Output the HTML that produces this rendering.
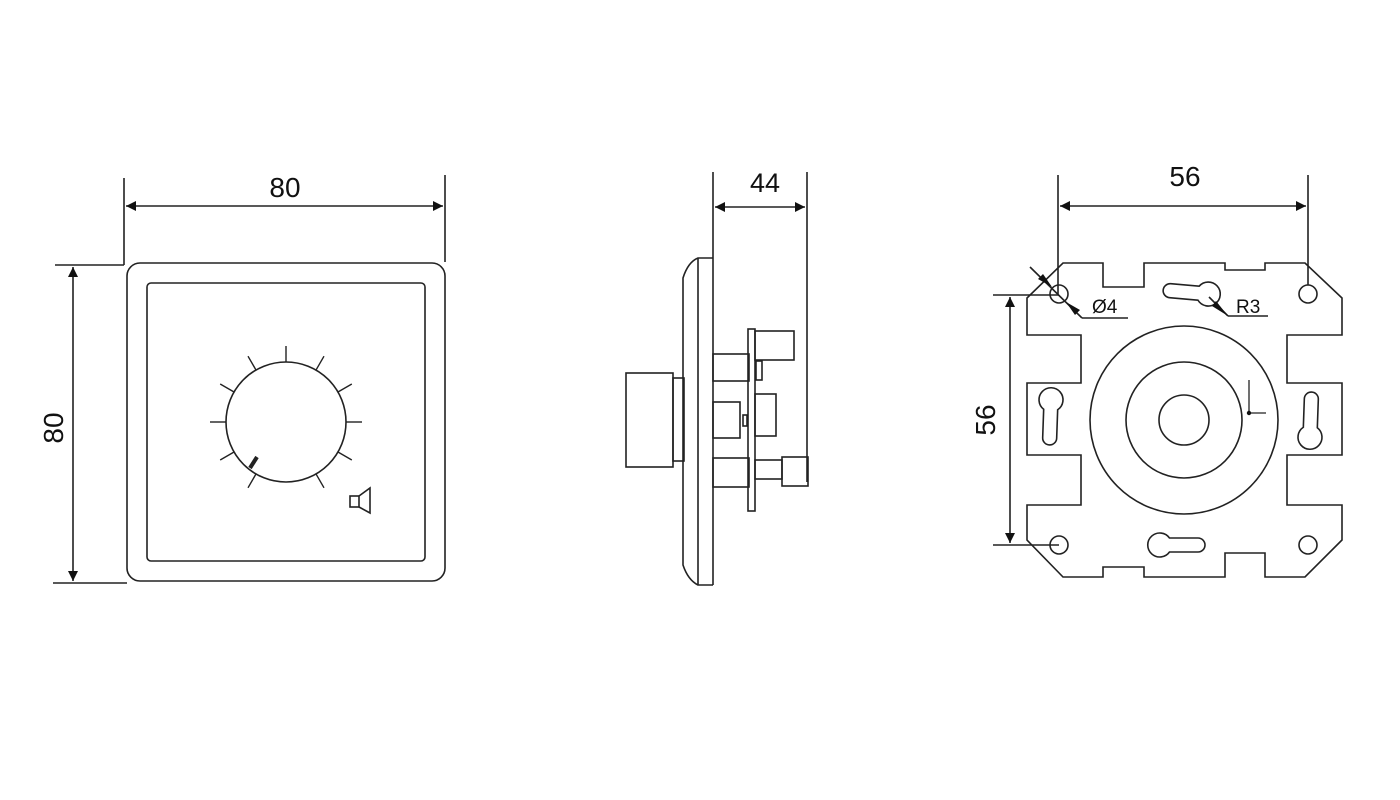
<!DOCTYPE html>
<html><head><meta charset="utf-8"><style>
html,body{margin:0;padding:0;background:#fff;}
svg{display:block;}
text{font-family:"Liberation Sans",Arial,sans-serif;fill:#111;}
</style></head><body>
<svg width="1400" height="800" viewBox="0 0 1400 800" xmlns="http://www.w3.org/2000/svg">
<defs>
<marker id="ar" viewBox="0 0 10 10" refX="10" refY="5" markerWidth="12" markerHeight="10" markerUnits="userSpaceOnUse" orient="auto-start-reverse">
<path d="M0,0 L10,5 L0,10 Z" fill="#111"/></marker>
<path id="kh" d="M9.5,-7 L38,-7 A7,7 0 0 1 38,7 L9.5,7 A12,12 0 1 1 9.5,-7 Z"/>
</defs>
<g fill="none" stroke="#222" stroke-width="1.6">
<!-- LEFT VIEW -->
<rect x="127" y="263" width="318" height="318" rx="13"/>
<rect x="147" y="283" width="278" height="278" rx="4"/>
<circle cx="286" cy="422" r="60"/>
<g stroke-width="1.4">
<line x1="286" y1="362" x2="286" y2="346" transform="rotate(0 286 422)"/>
<line x1="286" y1="362" x2="286" y2="346" transform="rotate(30 286 422)"/>
<line x1="286" y1="362" x2="286" y2="346" transform="rotate(60 286 422)"/>
<line x1="286" y1="362" x2="286" y2="346" transform="rotate(90 286 422)"/>
<line x1="286" y1="362" x2="286" y2="346" transform="rotate(120 286 422)"/>
<line x1="286" y1="362" x2="286" y2="346" transform="rotate(150 286 422)"/>
<line x1="286" y1="362" x2="286" y2="346" transform="rotate(-30 286 422)"/>
<line x1="286" y1="362" x2="286" y2="346" transform="rotate(-60 286 422)"/>
<line x1="286" y1="362" x2="286" y2="346" transform="rotate(-90 286 422)"/>
<line x1="286" y1="362" x2="286" y2="346" transform="rotate(-120 286 422)"/>
<line x1="286" y1="362" x2="286" y2="346" transform="rotate(-150 286 422)"/>
</g>
<line x1="250" y1="468" x2="257" y2="457" stroke-width="4"/>
<rect x="350" y="496" width="9" height="11"/>
<path d="M359,496 L370,488 L370,513 L359,507"/>
<!-- dims left -->
<line x1="124" y1="178" x2="124" y2="265"/>
<line x1="55" y1="265" x2="124" y2="265"/>
<line x1="445" y1="175" x2="445" y2="262"/>
<line x1="126" y1="206" x2="443" y2="206" marker-start="url(#ar)" marker-end="url(#ar)"/>
<line x1="53" y1="583" x2="127" y2="583"/>
<line x1="73" y1="267" x2="73" y2="581" marker-start="url(#ar)" marker-end="url(#ar)"/>
<!-- SIDE VIEW -->
<path d="M713,258 L698,258 Q688,262 683,278 L683,565 Q688,580 698,585 L713,585"/>
<line x1="698" y1="258" x2="698" y2="585"/>
<line x1="713" y1="172" x2="713" y2="585"/>
<line x1="807" y1="172" x2="807" y2="482"/>
<line x1="715" y1="207" x2="805" y2="207" marker-start="url(#ar)" marker-end="url(#ar)"/>
<rect x="626" y="373" width="47" height="94"/>
<rect x="673" y="378" width="11" height="83"/>
<rect x="748" y="329" width="7" height="182"/>
<rect x="713" y="354" width="36" height="27"/>
<rect x="713" y="402" width="27" height="36"/>
<rect x="743" y="415" width="4" height="11"/>
<rect x="755" y="331" width="39" height="29"/>
<rect x="756" y="361" width="6" height="19"/>
<rect x="755" y="394" width="21" height="42"/>
<rect x="713" y="458" width="36" height="29"/>
<rect x="755" y="460" width="27" height="19"/>
<rect x="782" y="457" width="26" height="29"/>
<!-- RIGHT VIEW -->
<path d="M1063,263 L1103,263 L1103,287 L1144,287 L1144,263 L1225,263 L1225,270 L1265,270 L1265,263 L1305,263 L1342,298 L1342,335 L1287,335 L1287,383 L1342,383 L1342,455 L1287,455 L1287,505 L1342,505 L1342,540 L1305,577 L1265,577 L1265,553 L1225,553 L1225,577 L1144,577 L1144,567 L1103,567 L1103,577 L1063,577 L1027,540 L1027,505 L1081,505 L1081,455 L1027,455 L1027,383 L1081,383 L1081,335 L1027,335 L1027,298 Z"/>
<circle cx="1059" cy="294" r="9"/>
<circle cx="1308" cy="294" r="9"/>
<circle cx="1059" cy="545" r="9"/>
<circle cx="1308" cy="545" r="9"/>
<circle cx="1184" cy="420" r="94"/>
<circle cx="1184" cy="420" r="58"/>
<circle cx="1184" cy="420" r="25"/>
<use href="#kh" transform="translate(1208,294) rotate(185)"/>
<use href="#kh" transform="translate(1051,400) rotate(92)"/>
<use href="#kh" transform="translate(1310,437) rotate(-88)"/>
<use href="#kh" transform="translate(1160,545) rotate(0)"/>
<line x1="1249" y1="380" x2="1249" y2="413" stroke-width="1.3"/>
<line x1="1249" y1="413" x2="1266" y2="413" stroke-width="1.3"/>
<line x1="1058" y1="175" x2="1058" y2="294"/>
<line x1="1308" y1="175" x2="1308" y2="285"/>
<line x1="1060" y1="206" x2="1306" y2="206" marker-start="url(#ar)" marker-end="url(#ar)"/>
<line x1="993" y1="295" x2="1059" y2="295"/>
<line x1="993" y1="545" x2="1059" y2="545"/>
<line x1="1010" y1="297" x2="1010" y2="543" marker-start="url(#ar)" marker-end="url(#ar)"/>
<line x1="1030" y1="267" x2="1082" y2="318"/>
<line x1="1082" y1="318" x2="1128" y2="318"/>
<line x1="1228" y1="316" x2="1209" y2="297"/>
<line x1="1228" y1="316" x2="1268" y2="316"/>
</g>
<path d="M1052,287 L1038,279 L1043,274 Z" fill="#111"/>
<path d="M1066,302 L1080,310 L1075,315 Z" fill="#111"/>
<circle cx="1249" cy="413" r="2.2" fill="#111"/>
<path d="M1228,316 L1216,301 L1212,306 Z" fill="#111"/>
<text x="285" y="197" font-size="28" text-anchor="middle">80</text>
<text x="765" y="192" font-size="27" text-anchor="middle">44</text>
<text x="1185" y="186" font-size="28" text-anchor="middle">56</text>
<text transform="translate(63,428) rotate(-90)" font-size="28" text-anchor="middle">80</text>
<text transform="translate(995,420) rotate(-90)" font-size="28" text-anchor="middle">56</text>
<text x="1092" y="313" font-size="19">Ø4</text>
<text x="1236" y="313" font-size="19">R3</text>
</svg>
</body></html>
